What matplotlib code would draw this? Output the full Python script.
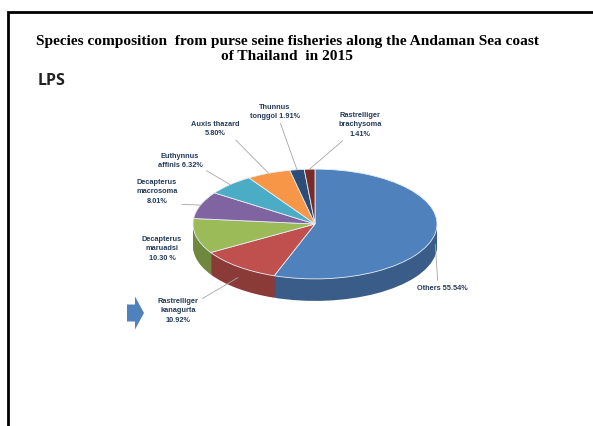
import matplotlib.pyplot as plt
import matplotlib.transforms as mtransforms
from matplotlib.patches import FancyArrow
import matplotlib.colors as mcolors
import numpy as np

# LPS catch composition, purse seine, Andaman Sea coast 2015
species = ['Others', 'Rastrelliger kanagurta', 'Decapterus maruadsi',
           'Decapterus macrosoma', 'Euthynnus affinis', 'Auxis thazard',
           'Thunnus tonggol', 'Rastrelliger brachysoma']
percent = [55.54, 10.92, 10.30, 8.01, 6.32, 5.80, 1.91, 1.41]
label_fmt = ['Others {}%', 'Rastrelliger\nkanagurta\n{}%', 'Decapterus\nmaruadsi\n{} %',
             'Decapterus\nmacrosoma\n{}%', 'Euthynnus\naffinis {}%', 'Auxis thazard\n{}%',
             'Thunnus\ntonggol {}%', 'Rastrelliger\nbrachysoma\n{}%']
colors = ['#4F81BD', '#C0504D', '#9BBB59', '#8064A2', '#4BACC6', '#F79646',
          '#2C4D75', '#772C2A']

W, H = 593, 427
fig = plt.figure(figsize=(W / 100, H / 100), dpi=100)
ax = fig.add_axes([0, 0, 1, 1])


def iy(y):
    # screen-style y (from top) to axes y
    return H - y


# pie geometry: ellipse centre, radius, squash and thickness
cx, cy = 315, iy(225)
rad = 122
squash = 0.45
depth = 22


def squashed(yc):
    return mtransforms.Affine2D().translate(-cx, -yc).scale(1, squash).translate(cx, yc) + ax.transData


# side walls: stack of darker pies under the top face
side_colors = [tuple(c * 0.72 for c in mcolors.to_rgb(col)) for col in colors]
for d in range(depth, 0, -1):
    yc = cy - d
    wedges, _ = ax.pie(percent, colors=side_colors, startangle=90, counterclock=False,
                       center=(cx, yc), radius=rad, frame=True,
                       wedgeprops=dict(linewidth=0))
    for w in wedges:
        w.set_transform(squashed(yc))

wedges, _ = ax.pie(percent, colors=colors, startangle=90, counterclock=False,
                   center=(cx, cy), radius=rad, frame=True,
                   wedgeprops=dict(linewidth=0.6, edgecolor='#E8EEF6'))
for w in wedges:
    w.set_transform(squashed(cy))
ax.set_xlim(0, W)
ax.set_ylim(0, H)
ax.set_aspect('auto')
ax.axis('off')

# labels and leader lines
text_pos = [(442, 289), (178, 311), (162, 249), (157, 192), (180, 161),
            (215, 129), (275, 112), (360, 125)]
rel = [(0.42, 1.0), (1.0, 0.85), None, (0.85, 0.0), (1.0, 0.0), (0.85, 0.0),
       (0.58, 0.0), (0.2, 0.0)]
total = sum(percent)
start = 0.0
for i, p in enumerate(percent):
    mid = start + p / 2
    start += p
    theta = np.deg2rad(90 - 360 * mid / total)
    ax_x = cx + rad * np.cos(theta)
    ax_y = cy + rad * np.sin(theta) * squash
    if np.sin(theta) < -0.05:
        ax_y -= depth * 0.5
    txt = label_fmt[i].format(f'{p:.2f}')
    tx, ty = text_pos[i]
    if rel[i] is None:
        ax.text(tx, iy(ty), txt, ha='center', va='center', fontsize=5.3,
                fontweight='bold', color='#243B5A', family='Liberation Sans',
                linespacing=1.5)
    else:
        ax.annotate(txt, xy=(ax_x, ax_y), xytext=(tx, iy(ty)), ha='center', va='center',
                    fontsize=5.3, fontweight='bold', color='#243B5A',
                    family='Liberation Sans', linespacing=1.5,
                    arrowprops=dict(arrowstyle='-', color='#A6A6A6', lw=0.6,
                                    shrinkA=1, shrinkB=0, relpos=rel[i]))

# block arrow pointing at Rastrelliger kanagurta
ax.add_patch(FancyArrow(127, iy(314), 8, 0, width=17, head_width=33, head_length=9,
                        length_includes_head=False, color='#4F81BD', linewidth=0))

# titles
ax.text(287, iy(49), 'Species composition  from purse seine fisheries along the Andaman Sea coast\n'
        'of Thailand  in 2015', ha='center', va='center', fontsize=11.1,
        fontweight='bold', family='Liberation Serif', linespacing=1.3)
ax.text(38, iy(81), 'LPS', ha='left', va='center', fontsize=11.5,
        fontweight='bold', family='Open Sans', color='#222222')

# slide frame (left and top edges)
ax.plot([8, 8, W], [0, iy(13), iy(13)], color='black', lw=2, solid_joinstyle='miter')

fig.savefig('out.png', dpi=100)
